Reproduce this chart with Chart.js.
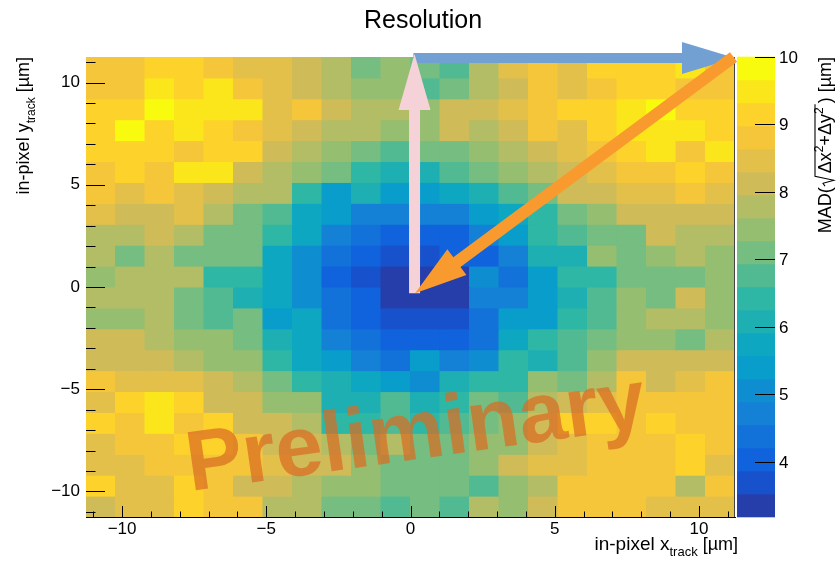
<!DOCTYPE html>
<html>
<head>
<meta charset="utf-8">
<script src="https://cdn.jsdelivr.net/npm/chart.js@4.4.1/dist/chart.umd.min.js"></script>
<style>
  html, body { margin: 0; padding: 0; background: #fff; }
</style>
</head>
<body>
<canvas id="resChart" width="836" height="563"></canvas>
<script>
// 22 x 22 bins over the 22.5 um pixel cell
const xRange = [-11.25, 11.25];
const yRange = [-11.25, 11.25];
const nBinsX = 22;
const nBinsY = 22;

const xTickValues = [-10, -5, 0, 5, 10];
const yTickValues = [-10, -5, 0, 5, 10];
const zTickValues = [4, 5, 6, 7, 8, 9, 10];
const zMin = 3.18;
const zMax = 10;
const nContours = 20;

// MAD resolution per bin [um], rows from top (y ~ +10.7) to bottom (y ~ -10.7)
const madRows = [
  [8.8,8.8,9.2,9.2,8.8,8.5,8.5,8.1,7.8,7.1,7.4, 7.1,6.8,7.8,8.5,8.8,8.5,9.2,9.2,9.2,9.5,8.8],
  [8.8,8.8,9.5,9.2,9.5,8.8,8.5,8.1,7.8,7.4,7.4, 6.8,7.1,7.8,8.1,8.8,8.5,8.8,9.2,9.2,8.8,8.8],
  [9.2,9.2,9.8,9.5,9.5,9.5,8.5,8.8,8.1,7.8,7.8, 7.4,8.1,8.1,8.5,8.8,9.2,9.2,9.5,9.8,9.2,9.2],
  [9.2,9.8,9.2,9.5,9.2,8.8,8.5,8.1,7.8,7.8,7.4, 7.4,8.1,7.8,8.1,8.8,8.5,9.2,9.5,9.5,9.5,9.2],
  [9.2,9.2,9.2,8.8,9.2,9.2,8.1,7.8,7.4,7.1,6.8, 7.1,7.1,7.4,7.8,8.1,8.5,8.8,9.2,9.5,8.8,9.5],
  [8.8,9.2,8.8,9.5,9.5,8.1,7.8,7.4,7.1,6.4,6.1, 6.1,6.8,7.1,7.4,7.8,8.1,8.5,8.8,8.8,9.2,8.8],
  [8.8,8.5,8.8,8.5,8.1,7.8,7.8,6.4,5.4,6.1,5.4, 5.4,5.7,6.1,6.8,7.1,8.1,8.1,8.5,8.5,8.8,8.5],
  [8.5,8.1,8.1,8.5,7.8,7.1,6.8,5.7,5.4,4.7,4.7, 4.7,4.7,5.4,5.7,6.4,7.1,7.4,8.1,8.1,8.1,8.1],
  [7.8,7.8,8.1,7.8,7.1,7.1,6.4,5.7,4.7,4.4,4.0, 4.0,4.0,4.7,5.4,6.4,6.8,7.1,7.1,8.1,7.8,7.8],
  [7.8,7.1,7.8,7.1,7.1,7.1,5.7,5.1,4.4,4.0,3.7, 3.7,4.0,4.0,4.7,6.1,6.1,7.4,7.1,7.4,7.8,7.4],
  [7.4,7.8,7.8,7.8,6.4,6.4,5.7,5.1,4.0,3.7,3.4, 3.4,3.4,5.1,4.4,5.4,6.4,6.4,7.1,7.1,7.1,7.4],
  [7.8,7.8,7.8,7.1,6.8,6.1,5.7,5.1,4.4,4.0,3.4, 3.4,3.4,4.7,4.7,5.4,6.1,6.8,7.4,7.1,8.1,7.4],
  [7.4,7.4,7.8,7.1,6.8,7.1,5.4,5.7,4.4,4.0,3.7, 3.7,3.7,4.4,5.4,5.4,6.4,6.8,7.4,7.8,7.8,7.4],
  [8.1,8.1,7.8,7.4,7.4,7.1,6.1,5.7,4.7,4.4,4.0, 4.0,4.0,4.4,5.7,6.4,6.8,7.1,7.4,7.4,7.1,7.8],
  [8.1,8.1,8.1,7.8,7.4,7.4,6.4,5.7,5.4,4.7,4.4, 5.4,4.7,5.1,6.4,6.1,6.8,7.4,8.1,8.1,8.1,8.1],
  [8.8,8.5,8.5,8.5,8.1,7.8,7.1,6.4,6.1,5.7,5.4, 5.1,6.1,6.4,6.4,7.4,7.1,7.8,8.8,8.1,8.5,8.8],
  [8.5,9.2,9.5,9.2,8.1,8.1,7.4,7.4,6.1,6.1,6.8, 6.1,6.4,7.1,6.8,7.8,8.1,8.5,8.8,8.8,8.8,8.8],
  [9.2,8.8,9.5,8.8,9.2,8.1,8.1,7.8,6.4,6.4,6.8, 6.4,6.8,7.1,7.4,8.1,9.2,9.2,8.8,9.2,8.8,8.8],
  [8.5,8.8,8.8,9.2,9.2,8.8,8.1,8.1,7.8,7.1,7.8, 7.1,7.1,7.4,7.4,8.1,8.5,8.8,8.8,8.8,9.2,8.8],
  [8.5,8.5,8.8,8.8,8.8,8.8,8.5,8.1,8.1,7.4,7.1, 7.1,7.1,7.4,8.1,8.5,8.5,8.8,8.8,8.8,9.2,8.5],
  [9.2,8.5,8.5,9.2,8.8,8.1,8.1,7.8,7.4,7.4,7.1, 7.1,7.1,6.8,7.4,7.8,8.8,8.8,8.8,8.8,7.8,8.8],
  [8.1,8.5,8.5,9.2,8.8,8.8,7.8,7.8,7.1,7.1,6.8, 7.1,6.8,7.8,7.4,8.1,8.8,8.8,8.8,8.5,8.5,8.5]
];

const fontFamily = "'Liberation Sans', Arial, sans-serif";

// ROOT kBird palette
const birdStops = [0, 0.125, 0.25, 0.375, 0.5, 0.625, 0.75, 0.875, 1];
const birdR = [0.2082, 0.0592, 0.0780, 0.0232, 0.1802, 0.5301, 0.8186, 0.9956, 0.9764];
const birdG = [0.1664, 0.3599, 0.5041, 0.6419, 0.7178, 0.7492, 0.7328, 0.7862, 0.9832];
const birdB = [0.5293, 0.8684, 0.8385, 0.7914, 0.6425, 0.4662, 0.3499, 0.1968, 0.0539];

function birdColor(t) {
  t = Math.max(0, Math.min(1, t));
  let i = 0;
  while (i < birdStops.length - 2 && t > birdStops[i + 1]) i++;
  const f = (t - birdStops[i]) / (birdStops[i + 1] - birdStops[i]);
  const c = arr => Math.round(255 * (arr[i] + f * (arr[i + 1] - arr[i])));
  return `rgb(${c(birdR)},${c(birdG)},${c(birdB)})`;
}

function contourColor(z) {
  let k = Math.floor((z - zMin) / (zMax - zMin) * nContours);
  k = Math.max(0, Math.min(nContours - 1, k));
  return birdColor((k + 0.99) / nContours);
}

const binW = (xRange[1] - xRange[0]) / nBinsX;
const binH = (yRange[1] - yRange[0]) / nBinsY;
const xCenters = Array.from({ length: nBinsX }, (_, i) => xRange[0] + (i + 0.5) * binW);

const datasets = madRows.map((row, r) => {
  const yHi = yRange[1] - r * binH;
  const yLo = yHi - binH;
  return {
    data: row.map((v, c) => ({ x: xCenters[c], y: [yLo, yHi], z: v })),
    backgroundColor: row.map(contourColor),
    borderWidth: 0,
    barPercentage: 1,
    categoryPercentage: 1,
    grouped: false,
    inflateAmount: 0.5
  };
});

function fmtTick(v) {
  return v < 0 ? '\u2212' + Math.abs(v) : String(v);
}

function partsWidth(ctx, parts) {
  let w = 0;
  parts.forEach(p => { ctx.font = p[1] + 'px ' + fontFamily; w += ctx.measureText(p[0]).width; });
  return w;
}

function drawParts(ctx, parts, x0, y0) {
  let cx = x0;
  parts.forEach(p => {
    ctx.font = p[1] + 'px ' + fontFamily;
    ctx.fillText(p[0], cx, y0 + p[2]);
    cx += ctx.measureText(p[0]).width;
  });
  return cx;
}

function drawArrow(ctx, x0, y0, x1, y1, shaftW, headLen, headW, color) {
  const dx = x1 - x0, dy = y1 - y0;
  const len = Math.hypot(dx, dy);
  const ux = dx / len, uy = dy / len;
  const nx = -uy, ny = ux;
  const bx = x1 - ux * headLen, by = y1 - uy * headLen;
  ctx.beginPath();
  ctx.moveTo(x0 + nx * shaftW / 2, y0 + ny * shaftW / 2);
  ctx.lineTo(bx + nx * shaftW / 2, by + ny * shaftW / 2);
  ctx.lineTo(bx + nx * headW / 2, by + ny * headW / 2);
  ctx.lineTo(x1, y1);
  ctx.lineTo(bx - nx * headW / 2, by - ny * headW / 2);
  ctx.lineTo(bx - nx * shaftW / 2, by - ny * shaftW / 2);
  ctx.lineTo(x0 - nx * shaftW / 2, y0 - ny * shaftW / 2);
  ctx.closePath();
  ctx.fillStyle = color;
  ctx.fill();
}

const rootStyle = {
  id: 'rootStyle',
  afterDraw(chart) {
    const { ctx, chartArea: a, scales: { x, y, z } } = chart;
    ctx.save();

    // inward ticks, 1 um minor steps
    ctx.strokeStyle = '#000';
    ctx.lineWidth = 1;
    ctx.beginPath();
    for (let v = Math.ceil(yRange[0]); v <= yRange[1]; v++) {
      const py = Math.round(y.getPixelForValue(v)) + 0.5;
      const len = v % 5 === 0 ? 19 : 9.5;
      ctx.moveTo(a.left, py);
      ctx.lineTo(a.left + len, py);
    }
    for (let v = Math.ceil(xRange[0]); v <= xRange[1]; v++) {
      const px = Math.round(x.getPixelForValue(v)) + 0.5;
      const len = v % 5 === 0 ? 11 : 5.5;
      ctx.moveTo(px, a.bottom);
      ctx.lineTo(px, a.bottom - len);
    }
    ctx.stroke();

    // frame right edge
    ctx.strokeStyle = '#444';
    ctx.beginPath();
    ctx.moveTo(Math.round(a.right) - 0.5, a.top);
    ctx.lineTo(Math.round(a.right) - 0.5, a.bottom);
    ctx.stroke();

    // colour palette
    const barL = a.right + 2, barR = a.right + 40;
    const dz = (zMax - zMin) / nContours;
    for (let k = 0; k < nContours; k++) {
      const top = z.getPixelForValue(zMin + (k + 1) * dz);
      const bot = z.getPixelForValue(zMin + k * dz);
      ctx.fillStyle = birdColor((k + 0.99) / nContours);
      ctx.fillRect(barL, top - 0.3, barR - barL, bot - top + 0.6);
    }
    ctx.strokeStyle = '#000';
    ctx.fillStyle = '#000';
    ctx.font = '17px ' + fontFamily;
    ctx.textAlign = 'left';
    ctx.textBaseline = 'middle';
    ctx.beginPath();
    zTickValues.forEach(v => {
      const py = Math.round(z.getPixelForValue(v)) + 0.5;
      ctx.moveTo(barR, py);
      ctx.lineTo(barR - 20, py);
      ctx.fillText(String(v), barR + 4, py + 1);
    });
    ctx.stroke();

    // titles
    ctx.textBaseline = 'alphabetic';
    ctx.textAlign = 'center';
    ctx.font = '25px ' + fontFamily;
    ctx.fillText('Resolution', 423, 28);
    ctx.textAlign = 'left';

    const xTitle = [['in-pixel x', 19, 0], ['track', 13, 6], [' [\u00b5m]', 18, 0]];
    drawParts(ctx, xTitle, 738 - partsWidth(ctx, xTitle), 550);

    const yTitle = [['in-pixel y', 18, 0], ['track', 12, 6], [' [\u00b5m]', 18, 0]];
    ctx.save();
    ctx.translate(29, a.top);
    ctx.rotate(-Math.PI / 2);
    drawParts(ctx, yTitle, -partsWidth(ctx, yTitle), 0);
    ctx.restore();

    const pre = [['MAD(', 18, 0]];
    const rad = [['\u0394x', 18, 0], ['2', 12, -8], ['+\u0394y', 18, 0], ['2', 12, -8]];
    const post = [[') [\u00b5m]', 18, 0]];
    const radW = 14;
    const total = partsWidth(ctx, pre) + radW + partsWidth(ctx, rad) + 4 + partsWidth(ctx, post);
    ctx.save();
    ctx.translate(831, a.top);
    ctx.rotate(-Math.PI / 2);
    let cx = drawParts(ctx, pre, -total, 0);
    const rw = partsWidth(ctx, rad);
    ctx.lineWidth = 1.1;
    ctx.beginPath();
    ctx.moveTo(cx + 1, -6);
    ctx.lineTo(cx + 4, -8);
    ctx.lineTo(cx + 7, 3);
    ctx.lineTo(cx + 11, -16);
    ctx.lineTo(cx + radW + rw + 3, -16);
    ctx.stroke();
    cx = drawParts(ctx, rad, cx + radW, 0);
    drawParts(ctx, post, cx + 4, 0);
    ctx.restore();

    // annotation arrows
    drawArrow(ctx, x.getPixelForValue(0.1), y.getPixelForValue(11.2),
      x.getPixelForValue(11.25), y.getPixelForValue(11.2), 10, 53, 32, '#72a0d2');
    drawArrow(ctx, x.getPixelForValue(0.14), y.getPixelForValue(-0.3),
      x.getPixelForValue(0.14), y.getPixelForValue(11.4), 11, 56, 32, '#f5d2d7');
    drawArrow(ctx, x.getPixelForValue(11.2), y.getPixelForValue(11.25),
      x.getPixelForValue(0.16), y.getPixelForValue(-0.3), 12, 52, 32, '#f99a2e');

    // watermark
    ctx.save();
    ctx.translate(x.getPixelForValue(-7.64), y.getPixelForValue(-9.98));
    ctx.rotate(-8 * Math.PI / 180);
    ctx.font = 'bold 85px ' + fontFamily;
    ctx.fillStyle = 'rgba(218,108,35,0.72)';
    ctx.textAlign = 'left';
    ctx.fillText('Preliminary', 0, 0);
    ctx.restore();

    ctx.restore();
  }
};

Chart.defaults.font.family = fontFamily;

new Chart(document.getElementById('resChart'), {
  type: 'bar',
  data: { datasets: datasets },
  options: {
    responsive: false,
    animation: false,
    events: [],
    devicePixelRatio: 1,
    layout: { padding: { top: 57, right: 101, bottom: 0, left: 0 } },
    plugins: {
      legend: { display: false },
      tooltip: { enabled: false },
      title: { display: false }
    },
    scales: {
      x: {
        type: 'linear', min: xRange[0], max: xRange[1], offset: false, z: 1,
        grid: { display: false, drawTicks: false, offset: false },
        border: { display: true, color: '#000', width: 1 },
        ticks: { color: '#000', font: { size: 17 }, padding: 2, maxRotation: 0, callback: fmtTick },
        afterBuildTicks: s => { s.ticks = xTickValues.map(v => ({ value: v })); },
        afterFit: s => { s.height = 46; }
      },
      y: {
        type: 'linear', min: yRange[0], max: yRange[1], offset: false, z: 1,
        grid: { display: false, drawTicks: false },
        border: { display: true, color: '#000', width: 1 },
        ticks: { color: '#000', font: { size: 17 }, padding: 6, callback: fmtTick },
        afterBuildTicks: s => { s.ticks = yTickValues.map(v => ({ value: v })); },
        afterFit: s => { s.width = 86; }
      },
      z: {
        type: 'linear', axis: 'y', position: 'right', display: false, min: zMin, max: zMax
      }
    }
  },
  plugins: [rootStyle]
});
</script>
</body>
</html>
